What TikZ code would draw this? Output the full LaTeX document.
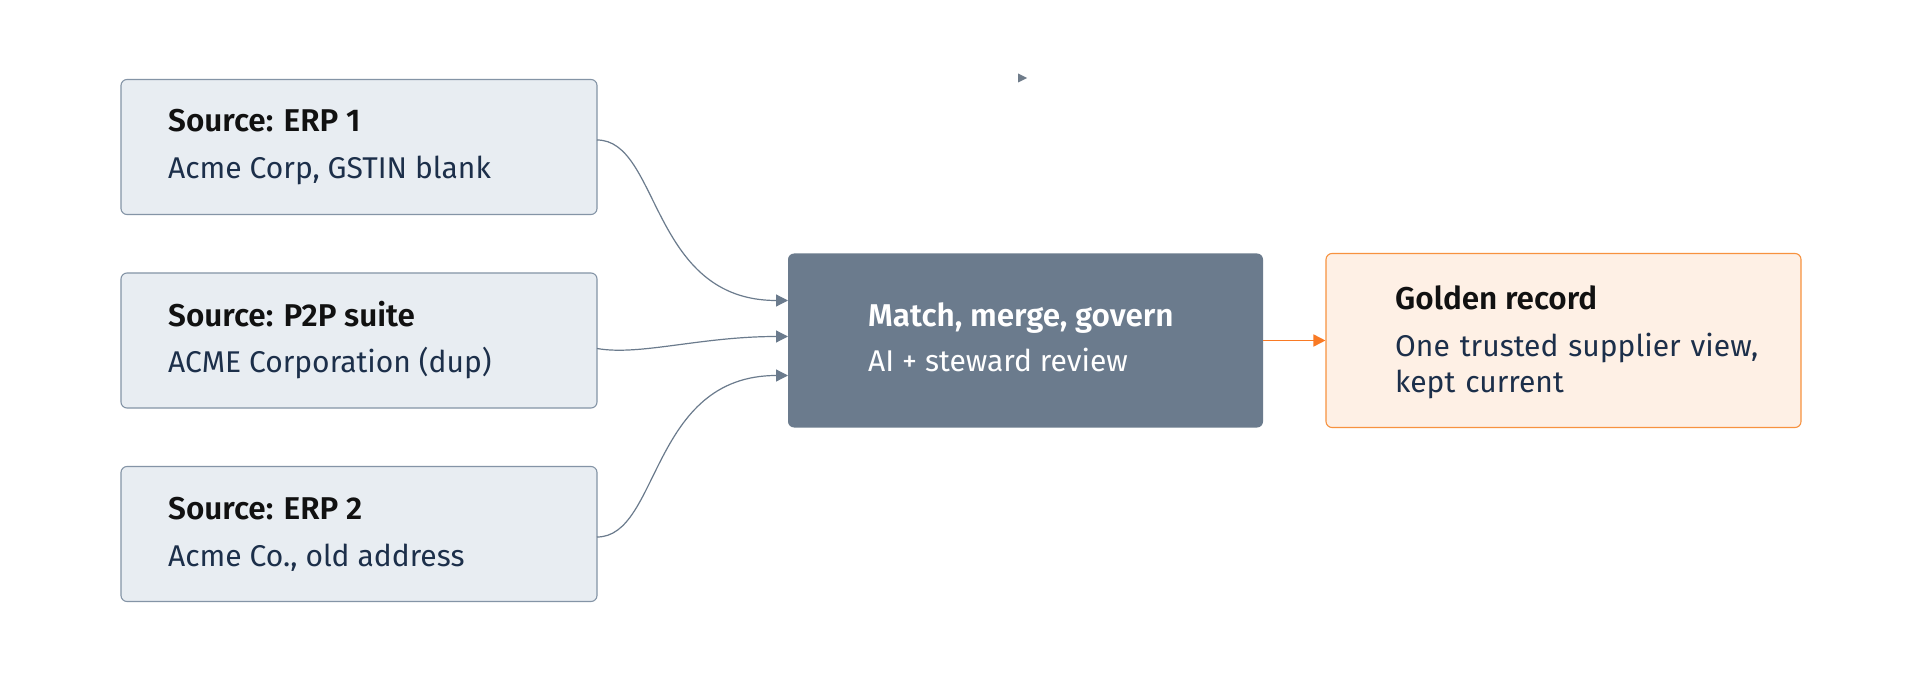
\documentclass[tikz,border=0pt]{standalone}
\usepackage{fontspec}
\setmainfont{Fira Sans}[BoldFont={Fira Sans SemiBold}]
\usetikzlibrary{arrows.meta}
\definecolor{srcfill}{HTML}{E8EDF2}
\definecolor{srcdraw}{HTML}{8494A6}
\definecolor{midfill}{HTML}{6B7B8D}
\definecolor{goldfill}{HTML}{FEF0E5}
\definecolor{golddraw}{HTML}{F7923F}
\definecolor{orangearrow}{HTML}{F97A24}
\definecolor{subtext}{HTML}{1C2F4A}
\definecolor{titletext}{HTML}{111111}
\tikzset{
  srcbox/.style={draw=srcdraw, fill=srcfill, line width=1.1pt, rounded corners=6pt, minimum width=476pt, minimum height=135pt, inner sep=0pt},
  midbox/.style={draw=none, fill=midfill, rounded corners=6pt, minimum width=475pt, minimum height=174pt, inner sep=0pt},
  goldbox/.style={draw=golddraw, fill=goldfill, line width=1.1pt, rounded corners=6pt, minimum width=475pt, minimum height=174pt, inner sep=0pt},
  ttl/.style={anchor=base west, inner sep=0pt, font=\fontsize{31.5}{36}\selectfont\bfseries, text=titletext},
  sub/.style={anchor=base west, inner sep=0pt, font=\fontsize{30}{36}\selectfont, text=subtext},
  flow/.style={draw=midfill, line width=1.2pt, -{Triangle[length=12pt,width=12pt]}},
  gflow/.style={draw=orangearrow, line width=1.6pt, -{Triangle[length=12pt,width=12pt]}},
}
\begin{document}
\begin{tikzpicture}[x=1pt,y=-1pt]
\useasboundingbox (0,0) rectangle (1921,676);
\fill[white] (0,0) rectangle (1921,676);
% boxes
\node[srcbox] (erp1) at (359,147) {};
\node[srcbox] (p2p) at (359,340.5) {};
\node[srcbox] (erp2) at (359,534) {};
\node[midbox] (mid) at (1025.5,340.5) {};
\node[goldbox] (gold) at (1563.5,340.5) {};
% texts
\node[ttl] (t1) at (168,132) {Source: ERP 1};
\node[sub] (s1) at (168,179) {Acme Corp, GSTIN blank};
\node[ttl] (t2) at (168,326) {Source: P2P suite};
\node[sub] (s2) at (168,372) {ACME Corporation (dup)};
\node[ttl] (t3) at (168,519) {Source: ERP 2};
\node[sub] (s3) at (168,566) {Acme Co., old address};
\node[ttl, text=white] (t4) at (868,326) {Match, merge, govern};
\node[sub, text=white] (s4) at (868,371) {AI + steward review};
\node[ttl] (t5) at (1395,309) {Golden record};
\node[sub, align=left, anchor=base west, text width=400pt] (s5) at (1395,356.5) {One trusted supplier view,\\kept current};
% coordinates on box edges
\coordinate (a1) at (597,140);
\coordinate (b1) at (788,300.5);
\coordinate (a2) at (597,348.5);
\coordinate (b2) at (788,336.5);
\coordinate (a3) at (597,537);
\coordinate (b3) at (788,375.5);
\draw[flow] (a1) .. controls (660,140) and (650,300.5) .. (b1);
\draw[flow] (a2) .. controls (640,356) and (700,336.5) .. (b2);
\draw[flow] (a3) .. controls (660,537) and (650,375.5) .. (b3);
\draw[gflow] (mid.east |- 0,340.5) -- (gold.west |- 0,340.5);
% stray marker
\fill[midfill!80!gray] (1018,73.5) -- (1027,78) -- (1018,82.5) -- cycle;
\end{tikzpicture}
\end{document}
